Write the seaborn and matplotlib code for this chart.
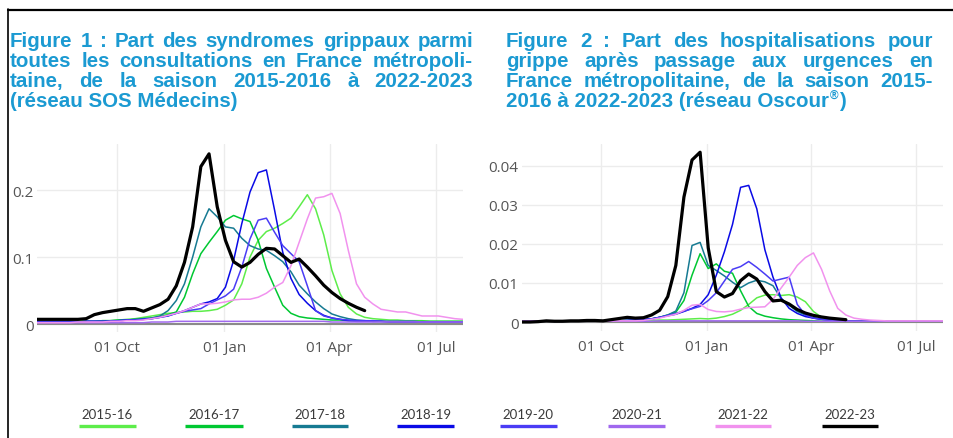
import matplotlib
matplotlib.use("Agg")
import pandas as pd
import matplotlib.pyplot as plt
import matplotlib.dates as mdates
from matplotlib.lines import Line2D
import seaborn as sns

W, H = 954, 439

seasons = ["2015-16", "2016-17", "2017-18", "2018-19", "2019-20", "2020-21", "2021-22", "2022-23"]
colors = ["#5ded4a", "#00c832", "#167a92", "#0a0ae6", "#4a3cf5", "#a068ee", "#f192ee", "#000000"]
widths = [1.1, 1.1, 1.1, 1.1, 1.1, 1.1, 1.1, 2.3]

# weekly values, season week 30 -> week 29 (x axis drawn on a 2022-23 calendar)
week_start = pd.Timestamp("2022-07-25")

# Figure 1 : SOS Medecins
sos_1516 = [0.004, 0.004, 0.004, 0.004, 0.004, 0.004, 0.004, 0.004, 0.005, 0.005, 0.006, 0.007, 0.008,
            0.010, 0.012, 0.014, 0.016, 0.017, 0.018, 0.019, 0.019, 0.020, 0.022, 0.028, 0.036, 0.060,
            0.100, 0.125, 0.138, 0.143, 0.150, 0.158, 0.175, 0.193, 0.172, 0.133, 0.080, 0.045, 0.025,
            0.015, 0.010, 0.008, 0.007, 0.006, 0.006, 0.005, 0.005, 0.005, 0.004, 0.004, 0.004, 0.004, 0.004]
sos_1617 = [0.003, 0.003, 0.003, 0.003, 0.003, 0.004, 0.004, 0.004, 0.005, 0.005, 0.006, 0.006, 0.007,
            0.008, 0.009, 0.011, 0.014, 0.018, 0.040, 0.075, 0.105, 0.122, 0.138, 0.155, 0.162, 0.157,
            0.153, 0.125, 0.083, 0.055, 0.028, 0.016, 0.011, 0.009, 0.008, 0.007, 0.006, 0.006, 0.005,
            0.005, 0.005, 0.004, 0.004, 0.004, 0.004, 0.004, 0.004, 0.004, 0.004, 0.004, 0.004, 0.004, 0.004]
sos_1718 = [0.003, 0.003, 0.003, 0.003, 0.003, 0.003, 0.004, 0.004, 0.004, 0.005, 0.005, 0.006, 0.007,
            0.008, 0.009, 0.012, 0.020, 0.035, 0.060, 0.100, 0.145, 0.172, 0.160, 0.145, 0.143, 0.128,
            0.117, 0.112, 0.110, 0.102, 0.093, 0.078, 0.058, 0.045, 0.033, 0.023, 0.015, 0.011, 0.008,
            0.006, 0.005, 0.004, 0.004, 0.003, 0.003, 0.003, 0.003, 0.003, 0.003, 0.003, 0.003, 0.003, 0.003]
sos_1819 = [0.003, 0.003, 0.003, 0.003, 0.003, 0.003, 0.004, 0.004, 0.004, 0.004, 0.005, 0.006, 0.006,
            0.007, 0.008, 0.010, 0.012, 0.016, 0.020, 0.025, 0.030, 0.033, 0.038, 0.055, 0.095, 0.150,
            0.197, 0.226, 0.230, 0.170, 0.107, 0.068, 0.044, 0.031, 0.020, 0.013, 0.009, 0.007, 0.005,
            0.004, 0.004, 0.004, 0.004, 0.003, 0.003, 0.003, 0.003, 0.003, 0.003, 0.003, 0.003, 0.003, 0.003]
sos_1920 = [0.003, 0.003, 0.003, 0.003, 0.003, 0.003, 0.004, 0.004, 0.004, 0.004, 0.005, 0.006, 0.006,
            0.007, 0.008, 0.010, 0.013, 0.016, 0.019, 0.021, 0.023, 0.030, 0.036, 0.042, 0.052, 0.085,
            0.127, 0.155, 0.158, 0.137, 0.117, 0.105, 0.093, 0.057, 0.020, 0.012, 0.009, 0.007, 0.006,
            0.005, 0.005, 0.005, 0.004, 0.004, 0.004, 0.004, 0.004, 0.003, 0.003, 0.003, 0.003, 0.003, 0.003]
sos_2021 = [0.002, 0.002, 0.002, 0.002, 0.002, 0.002, 0.002, 0.002, 0.002, 0.002, 0.002, 0.002, 0.002,
            0.002, 0.003, 0.003, 0.003, 0.004, 0.004, 0.004, 0.004, 0.004, 0.004, 0.004, 0.004, 0.004,
            0.004, 0.004, 0.004, 0.004, 0.004, 0.004, 0.004, 0.004, 0.004, 0.004, 0.003, 0.003, 0.003,
            0.003, 0.003, 0.003, 0.003, 0.003, 0.003, 0.003, 0.003, 0.003, 0.003, 0.003, 0.003, 0.003, 0.003]
sos_2122 = [0.002, 0.002, 0.002, 0.002, 0.002, 0.003, 0.003, 0.003, 0.003, 0.004, 0.004, 0.005, 0.005,
            0.006, 0.008, 0.010, 0.013, 0.016, 0.020, 0.025, 0.030, 0.030, 0.031, 0.033, 0.036, 0.037,
            0.037, 0.040, 0.046, 0.055, 0.062, 0.087, 0.122, 0.157, 0.188, 0.190, 0.195, 0.165, 0.110,
            0.060, 0.040, 0.030, 0.022, 0.020, 0.018, 0.018, 0.015, 0.012, 0.012, 0.012, 0.010, 0.008, 0.007]
sos_2223 = [0.007, 0.007, 0.007, 0.007, 0.007, 0.007, 0.008, 0.014, 0.017, 0.019, 0.021, 0.023, 0.023,
            0.019, 0.024, 0.029, 0.037, 0.057, 0.092, 0.145, 0.235, 0.254, 0.175, 0.125, 0.093, 0.085,
            0.092, 0.104, 0.113, 0.112, 0.102, 0.092, 0.097, 0.085, 0.072, 0.058, 0.047, 0.038, 0.031,
            0.025, 0.020]

# Figure 2 : Oscour
osc_1516 = [0.0002, 0.0002, 0.0002, 0.0002, 0.0002, 0.0002, 0.0002, 0.0002, 0.0002, 0.0003, 0.0003,
            0.0003, 0.0003, 0.0004, 0.0004, 0.0004, 0.0005, 0.0005, 0.0005, 0.0006, 0.0007, 0.0008,
            0.0009, 0.0008, 0.0010, 0.0014, 0.0020, 0.0030, 0.0045, 0.0062, 0.0069, 0.0070, 0.0068,
            0.0070, 0.0064, 0.0052, 0.0027, 0.0012, 0.0006, 0.0004, 0.0003, 0.0002, 0.0002, 0.0002,
            0.0002, 0.0002, 0.0002, 0.0002, 0.0002, 0.0002, 0.0002, 0.0002, 0.0002]
osc_1617 = [0.0002, 0.0002, 0.0002, 0.0002, 0.0002, 0.0002, 0.0002, 0.0002, 0.0002, 0.0002, 0.0003,
            0.0003, 0.0003, 0.0004, 0.0005, 0.0006, 0.0008, 0.0012, 0.0018, 0.0025, 0.0055, 0.0120,
            0.0175, 0.0137, 0.0149, 0.0130, 0.0125, 0.0080, 0.0040, 0.0022, 0.0015, 0.0011, 0.0008,
            0.0006, 0.0005, 0.0004, 0.0003, 0.0002, 0.0002, 0.0002, 0.0002, 0.0002, 0.0002, 0.0002,
            0.0002, 0.0002, 0.0002, 0.0002, 0.0002, 0.0002, 0.0002, 0.0002, 0.0002]
osc_1718 = [0.0002, 0.0002, 0.0002, 0.0002, 0.0002, 0.0002, 0.0002, 0.0002, 0.0002, 0.0002, 0.0003,
            0.0003, 0.0003, 0.0004, 0.0005, 0.0006, 0.0008, 0.0012, 0.0018, 0.0028, 0.0075, 0.0196,
            0.0204, 0.0145, 0.0132, 0.0118, 0.0102, 0.0088, 0.0100, 0.0107, 0.0103, 0.0093, 0.0060,
            0.0043, 0.0027, 0.0018, 0.0011, 0.0007, 0.0005, 0.0004, 0.0003, 0.0002, 0.0002, 0.0002,
            0.0002, 0.0002, 0.0002, 0.0002, 0.0002, 0.0002, 0.0002, 0.0002, 0.0002]
osc_1819 = [0.0002, 0.0002, 0.0002, 0.0002, 0.0002, 0.0002, 0.0002, 0.0002, 0.0002, 0.0002, 0.0003,
            0.0003, 0.0003, 0.0004, 0.0005, 0.0006, 0.0008, 0.0012, 0.0016, 0.0020, 0.0027, 0.0035,
            0.0045, 0.0070, 0.0120, 0.0180, 0.0250, 0.0345, 0.0350, 0.0290, 0.0185, 0.0115, 0.0062,
            0.0035, 0.0022, 0.0014, 0.0010, 0.0007, 0.0005, 0.0004, 0.0003, 0.0002, 0.0002, 0.0002,
            0.0002, 0.0002, 0.0002, 0.0002, 0.0002, 0.0002, 0.0002, 0.0002, 0.0002]
osc_1920 = [0.0002, 0.0002, 0.0002, 0.0002, 0.0002, 0.0002, 0.0002, 0.0002, 0.0002, 0.0002, 0.0003,
            0.0003, 0.0003, 0.0004, 0.0005, 0.0006, 0.0008, 0.0012, 0.0017, 0.0022, 0.0028, 0.0034,
            0.0040, 0.0055, 0.0075, 0.0105, 0.0135, 0.0142, 0.0155, 0.0140, 0.0123, 0.0105, 0.0110,
            0.0115, 0.0045, 0.0018, 0.0010, 0.0007, 0.0005, 0.0004, 0.0003, 0.0002, 0.0002, 0.0002,
            0.0002, 0.0002, 0.0002, 0.0002, 0.0002, 0.0002, 0.0002, 0.0002, 0.0002]
osc_2021 = [0.0002, 0.0002, 0.0002, 0.0002, 0.0002, 0.0002, 0.0002, 0.0002, 0.0002, 0.0002, 0.0002,
            0.0002, 0.0002, 0.0002, 0.0002, 0.0002, 0.0002, 0.0003, 0.0003, 0.0003, 0.0003, 0.0003,
            0.0003, 0.0003, 0.0003, 0.0003, 0.0003, 0.0003, 0.0003, 0.0003, 0.0003, 0.0003, 0.0003,
            0.0003, 0.0003, 0.0002, 0.0002, 0.0002, 0.0002, 0.0002, 0.0002, 0.0002, 0.0002, 0.0002,
            0.0002, 0.0002, 0.0002, 0.0002, 0.0002, 0.0002, 0.0002, 0.0002, 0.0002]
osc_2122 = [0.0002, 0.0002, 0.0002, 0.0002, 0.0002, 0.0002, 0.0002, 0.0002, 0.0002, 0.0002, 0.0003,
            0.0003, 0.0003, 0.0003, 0.0003, 0.0004, 0.0007, 0.0010, 0.0015, 0.0020, 0.0030, 0.0043,
            0.0045, 0.0032, 0.0027, 0.0026, 0.0028, 0.0033, 0.0037, 0.0038, 0.0039, 0.0058, 0.0087,
            0.0115, 0.0145, 0.0165, 0.0177, 0.0135, 0.0080, 0.0035, 0.0018, 0.0010, 0.0007, 0.0005,
            0.0004, 0.0003, 0.0003, 0.0003, 0.0003, 0.0003, 0.0003, 0.0003, 0.0003]
osc_2223 = [0.0000, 0.0000, 0.0001, 0.0003, 0.0002, 0.0002, 0.0003, 0.0003, 0.0004, 0.0004, 0.0003,
            0.0006, 0.0009, 0.0012, 0.0010, 0.0011, 0.0018, 0.0030, 0.0065, 0.0145, 0.0320, 0.0415,
            0.0435, 0.0190, 0.0078, 0.0064, 0.0073, 0.0106, 0.0123, 0.0110, 0.0078, 0.0054, 0.0056,
            0.0046, 0.0032, 0.0023, 0.0017, 0.0013, 0.0010, 0.0008, 0.0006]

sos_series = [sos_1516, sos_1617, sos_1718, sos_1819, sos_1920, sos_2021, sos_2122, sos_2223]
osc_series = [osc_1516, osc_1617, osc_1718, osc_1819, osc_1920, osc_2021, osc_2122, osc_2223]

sos_ticks = [0, 0.1, 0.2]
sos_labels = ["0", "0.1", "0.2"]
osc_ticks = [0, 0.01, 0.02, 0.03, 0.04]
osc_labels = ["0", "0.01", "0.02", "0.03", "0.04"]

title_1 = ["Figure 1 : Part des syndromes grippaux parmi",
           "toutes les consultations en France métropoli-",
           "taine, de la saison 2015-2016 à 2022-2023",
           "(réseau SOS Médecins)"]
title_2 = ["Figure 2 : Part des hospitalisations pour",
           "grippe après passage aux urgences en",
           "France métropolitaine, de la saison 2015-",
           "2016 à 2022-2023 (réseau Oscour"]

TITLE_COLOR = "#1b9ad2"
TICK_COLOR = "#555555"


def to_long(series_list):
    frames = []
    for season, vals in zip(seasons, series_list):
        dates = pd.date_range(week_start, periods=len(vals), freq="7D")
        frames.append(pd.DataFrame({"date": dates, "value": vals, "season": season}))
    return pd.concat(frames, ignore_index=True)


def draw_panel(ax, df, ticks, labels, ylim):
    ax.axhline(0, color="#8a8a8a", lw=1.5, zorder=1)
    sns.lineplot(data=df, x="date", y="value", hue="season", size="season",
                 hue_order=seasons, size_order=seasons,
                 palette=dict(zip(seasons, colors)), sizes=dict(zip(seasons, widths)),
                 estimator=None, sort=False, legend=False, ax=ax)
    ax.set_xlim(week_start, week_start + pd.Timedelta(weeks=52))
    ax.set_ylim(*ylim)
    ax.xaxis.set_major_locator(mdates.MonthLocator(bymonth=[1, 4, 7, 10], bymonthday=1))
    ax.xaxis.set_major_formatter(mdates.DateFormatter("%d %b"))
    ax.set_yticks(ticks)
    ax.set_yticklabels(labels)
    ax.grid(True, color="#ececec", lw=1)
    ax.set_axisbelow(True)
    ax.tick_params(axis="both", length=0, labelsize=11, labelcolor=TICK_COLOR)
    ax.tick_params(axis="x", pad=6)
    ax.tick_params(axis="y", pad=2.5)
    ax.set_xlabel("")
    ax.set_ylabel("")
    for s in ax.spines.values():
        s.set_visible(False)


def justify(fig, renderer, line, x0, x1, y_base, **kw):
    words = line.split(" ")
    texts = [fig.text(0, 1 - y_base / H, w, ha="left", va="baseline", **kw) for w in words]
    sizes = [t.get_window_extent(renderer).width for t in texts]
    gap = (x1 - x0 - sum(sizes)) / (len(words) - 1)
    x = x0
    for t, w in zip(texts, sizes):
        t.set_x(x / W)
        x += w + gap


sns.set_style("white")
plt.rcParams["font.family"] = ["Open Sans", "DejaVu Sans"]

fig = plt.figure(figsize=(W / 100, H / 100), dpi=100)
ax1 = fig.add_axes([37 / W, 1 - 333 / H, (463 - 37) / W, (333 - 145) / H])
ax2 = fig.add_axes([522 / W, 1 - 332 / H, (943 - 522) / W, (332 - 145) / H])

draw_panel(ax1, to_long(sos_series), sos_ticks, sos_labels, (-0.0119, 0.2687))
draw_panel(ax2, to_long(osc_series), osc_ticks, osc_labels, (-0.0023, 0.0456))

# titles, justified like in the report
renderer = fig.canvas.get_renderer()
tkw = dict(family=["Liberation Sans", "DejaVu Sans"], weight="bold", size=14.8, color=TITLE_COLOR)
baselines = [47, 67, 87, 107]
for line, yb in zip(title_1[:3], baselines):
    justify(fig, renderer, line, 10, 473, yb, **tkw)
fig.text(10 / W, 1 - baselines[3] / H, title_1[3], ha="left", va="baseline", **tkw)

for line, yb in zip(title_2[:3], baselines):
    justify(fig, renderer, line, 506, 933, yb, **tkw)
t_last = fig.text(506 / W, 1 - baselines[3] / H, title_2[3], ha="left", va="baseline", **tkw)
x_reg = 506 + t_last.get_window_extent(renderer).width + 1
t_reg = fig.text(x_reg / W, 1 - (baselines[3] - 8) / H, "®", ha="left", va="baseline",
                 family=["Liberation Sans", "DejaVu Sans"], weight="bold", size=8.5, color=TITLE_COLOR)
x_par = x_reg + t_reg.get_window_extent(renderer).width + 1
fig.text(x_par / W, 1 - baselines[3] / H, ")", ha="left", va="baseline", **tkw)

# legend under both panels
legend_x = [107, 214, 320, 426, 528, 637, 743, 850]
for season, color, xc in zip(seasons, colors, legend_x):
    fig.text(xc / W, 1 - 415 / H, season, ha="center", va="center", family=["Lato", "DejaVu Sans"],
             size=9.5, color="#3a3a3a")
    fig.add_artist(Line2D([(xc - 28.5) / W, (xc + 28.5) / W], [1 - 427 / H] * 2,
                          transform=fig.transFigure, color=color, lw=2.4, solid_capstyle="butt"))

# page frame
fig.add_artist(Line2D([8 / W, 1], [1 - 10.5 / H] * 2, transform=fig.transFigure, color="black", lw=1.6))
fig.add_artist(Line2D([8.5 / W] * 2, [1 - 10 / H, 0], transform=fig.transFigure, color="black", lw=1.2))

fig.savefig("out.png", dpi=100)
